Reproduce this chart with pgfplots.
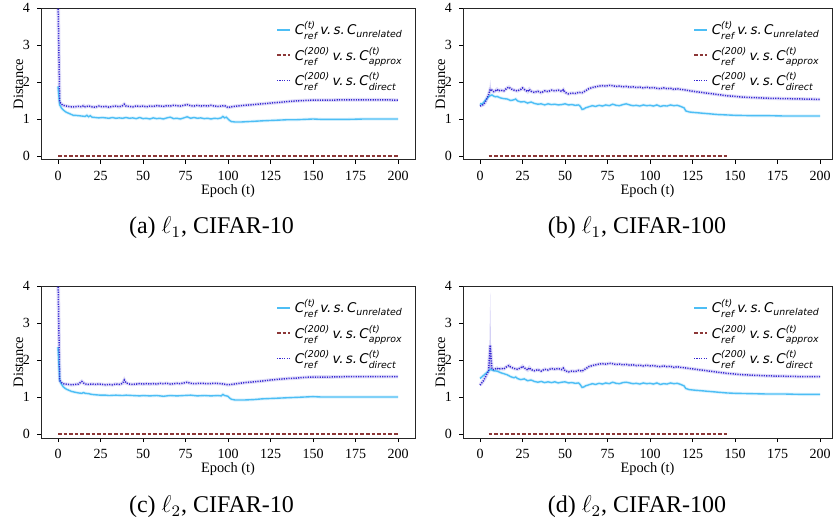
\documentclass[border=0pt]{standalone}
\usepackage{amsmath}
\usepackage{fontspec}
\setmainfont{Liberation Serif}
\newfontfamily\dejavu{DejaVu Sans}
\usepackage{pgfplots}
\pgfplotsset{compat=1.18}

\definecolor{cu}{RGB}{77,190,245}
\definecolor{ca}{RGB}{140,55,55}
\definecolor{cd}{RGB}{55,40,210}

\newcommand{\lu}{C$^{\text{(t)}}_{\text{ref}}$\,v.\,s.\,C$_{\text{unrelated}}$}
\newcommand{\la}{C$^{\text{(200)}}_{\text{ref}}$\,v.\,s.\,C$^{\text{(t)}}_{\text{approx}}$}
\newcommand{\ld}{C$^{\text{(200)}}_{\text{ref}}$\,v.\,s.\,C$^{\text{(t)}}_{\text{direct}}$}

\pgfplotsset{
  panel/.style={
    scale only axis, height=76pt,
    anchor=south west,
    xmin=-10, ymin=-0.108, ymax=4,
    xtick={0,25,...,200}, ytick={0,1,2,3,4},
    tick pos=left, tick align=outside,
    major tick length=2pt,
    tick style={black, line width=0.4pt},
    axis line style={black!85, line width=0.5pt},
    ticklabel style={font=\fontsize{7}{8}\selectfont},
    /pgf/number format/assume math mode=true,
    label style={font=\fontsize{7.2}{8}\selectfont},
    xlabel={Epoch (t)}, ylabel={Distance},
    xlabel style={yshift=5pt},
    ylabel style={yshift=-7pt},
    legend style={draw=none, fill=none, at={(0.995,0.965)}, anchor=north east,
      font=\fontsize{6.7}{8}\dejavu\itshape, row sep=0.6pt},
    legend cell align=left,
    legend image code/.code={\draw[##1] (0pt,0pt) -- (6.5pt,0pt);},
  },
  uline/.style={cu, line width=0.7pt},
  aline/.style={ca, line width=0.7pt, dash pattern=on 1.8pt off 1pt},
  dline/.style={cd, line width=0.75pt, dash pattern=on 0.6pt off 0.6pt},
  uband/.style={cu, line width=1.6pt, opacity=0.18, forget plot},
  dband/.style={cd, line width=1.8pt, opacity=0.15, forget plot},
}

\begin{document}
\begin{tikzpicture}
\useasboundingbox (0,0) rectangle (416.5pt,262.5pt);

% ---------- (a) l1, CIFAR-10
\begin{axis}[panel, at={(20.5pt,182.5pt)}, width=187pt, xmax=210]
\addplot[dband] coordinates {(0,4.3)(1,1.46)(2,1.40)(3,1.37)(4,1.36)(6,1.34)(8,1.33)(10,1.33)(12,1.34)(14,1.33)(15,1.36)(16,1.33)(18,1.35)(20,1.33)(22,1.32)(24,1.35)(26,1.33)(28,1.34)(30,1.32)(32,1.34)(34,1.35)(36,1.33)(38,1.36)(39,1.40)(40,1.35)(42,1.34)(44,1.33)(46,1.35)(48,1.34)(50,1.35)(52,1.33)(54,1.35)(56,1.34)(58,1.36)(60,1.35)(62,1.34)(64,1.36)(66,1.35)(68,1.37)(70,1.36)(72,1.35)(74,1.37)(76,1.39)(78,1.36)(80,1.35)(82,1.37)(84,1.35)(86,1.36)(88,1.35)(90,1.37)(92,1.35)(94,1.34)(96,1.35)(98,1.36)(100,1.31)(102,1.33)(105,1.35)(110,1.37)(115,1.39)(120,1.41)(125,1.43)(130,1.45)(135,1.47)(140,1.49)(145,1.50)(150,1.51)(160,1.51)(170,1.52)(180,1.52)(190,1.52)(200,1.51)};
\addplot[uband] coordinates {(0,1.88)(1,1.38)(2,1.30)(3,1.25)(4,1.21)(5,1.18)(6,1.16)(7,1.14)(8,1.12)(9,1.10)(10,1.10)(12,1.09)(14,1.08)(16,1.07)(17,1.10)(18,1.06)(19,1.09)(20,1.05)(22,1.04)(24,1.03)(26,1.04)(28,1.03)(30,1.02)(32,1.04)(34,1.02)(36,1.03)(38,1.02)(40,1.04)(42,1.02)(44,1.03)(46,1.01)(48,1.04)(50,1.01)(52,1.02)(54,1.00)(56,1.03)(58,1.01)(60,1.02)(62,1.00)(64,1.03)(66,1.05)(68,1.01)(70,1.02)(72,1.00)(74,1.03)(76,1.06)(78,1.02)(80,1.04)(82,1.02)(84,1.03)(86,1.01)(88,1.02)(90,1.00)(92,1.02)(94,1.01)(96,1.03)(97,1.07)(98,1.03)(99,1.05)(100,1.00)(101,0.96)(102,0.93)(104,0.92)(108,0.92)(112,0.93)(116,0.94)(120,0.95)(125,0.96)(130,0.97)(135,0.98)(140,0.98)(145,0.99)(150,1.00)(155,0.99)(160,0.99)(170,0.99)(180,1.00)(190,1.00)(200,1.00)};
\addplot[uline] coordinates {(0,1.88)(1,1.38)(2,1.30)(3,1.25)(4,1.21)(5,1.18)(6,1.16)(7,1.14)(8,1.12)(9,1.10)(10,1.10)(12,1.09)(14,1.08)(16,1.07)(17,1.10)(18,1.06)(19,1.09)(20,1.05)(22,1.04)(24,1.03)(26,1.04)(28,1.03)(30,1.02)(32,1.04)(34,1.02)(36,1.03)(38,1.02)(40,1.04)(42,1.02)(44,1.03)(46,1.01)(48,1.04)(50,1.01)(52,1.02)(54,1.00)(56,1.03)(58,1.01)(60,1.02)(62,1.00)(64,1.03)(66,1.05)(68,1.01)(70,1.02)(72,1.00)(74,1.03)(76,1.06)(78,1.02)(80,1.04)(82,1.02)(84,1.03)(86,1.01)(88,1.02)(90,1.00)(92,1.02)(94,1.01)(96,1.03)(97,1.07)(98,1.03)(99,1.05)(100,1.00)(101,0.96)(102,0.93)(104,0.92)(108,0.92)(112,0.93)(116,0.94)(120,0.95)(125,0.96)(130,0.97)(135,0.98)(140,0.98)(145,0.99)(150,1.00)(155,0.99)(160,0.99)(170,0.99)(180,1.00)(190,1.00)(200,1.00)};
\addlegendentry{\lu}
\addplot[aline] coordinates {(0,0)(50,0)(100,0)(150,0)(200,0)};
\addlegendentry{\la}
\addplot[dline] coordinates {(0,4.3)(1,1.46)(2,1.40)(3,1.37)(4,1.36)(6,1.34)(8,1.33)(10,1.33)(12,1.34)(14,1.33)(15,1.36)(16,1.33)(18,1.35)(20,1.33)(22,1.32)(24,1.35)(26,1.33)(28,1.34)(30,1.32)(32,1.34)(34,1.35)(36,1.33)(38,1.36)(39,1.40)(40,1.35)(42,1.34)(44,1.33)(46,1.35)(48,1.34)(50,1.35)(52,1.33)(54,1.35)(56,1.34)(58,1.36)(60,1.35)(62,1.34)(64,1.36)(66,1.35)(68,1.37)(70,1.36)(72,1.35)(74,1.37)(76,1.39)(78,1.36)(80,1.35)(82,1.37)(84,1.35)(86,1.36)(88,1.35)(90,1.37)(92,1.35)(94,1.34)(96,1.35)(98,1.36)(100,1.31)(102,1.33)(105,1.35)(110,1.37)(115,1.39)(120,1.41)(125,1.43)(130,1.45)(135,1.47)(140,1.49)(145,1.50)(150,1.51)(160,1.51)(170,1.52)(180,1.52)(190,1.52)(200,1.51)};
\addlegendentry{\ld}
\end{axis}

% ---------- (b) l1, CIFAR-100
\begin{axis}[panel, at={(231.5pt,182.5pt)}, width=184.5pt, xmax=207]
\addplot[cd, fill=cd, opacity=0.2, draw=none, forget plot] coordinates {(5.3,1.70)(6,2.05)(6.7,1.76)} -- cycle;
\addplot[dband] coordinates {(0,1.35)(1,1.37)(2,1.39)(3,1.45)(4,1.55)(5,1.65)(6,1.80)(7,1.78)(8,1.74)(9,1.76)(10,1.80)(11,1.76)(12,1.78)(14,1.76)(16,1.84)(17,1.86)(18,1.82)(20,1.78)(22,1.76)(24,1.80)(25,1.84)(26,1.80)(28,1.74)(29,1.80)(30,1.75)(32,1.72)(34,1.75)(36,1.71)(38,1.76)(40,1.74)(42,1.78)(44,1.76)(46,1.78)(48,1.75)(49,1.79)(50,1.72)(52,1.68)(54,1.70)(56,1.69)(58,1.72)(60,1.71)(62,1.76)(64,1.82)(66,1.85)(68,1.87)(70,1.89)(72,1.90)(74,1.89)(76,1.91)(78,1.90)(80,1.88)(82,1.89)(84,1.87)(86,1.88)(88,1.86)(90,1.87)(92,1.85)(94,1.86)(96,1.84)(98,1.86)(100,1.84)(102,1.85)(104,1.83)(106,1.82)(108,1.84)(110,1.82)(112,1.83)(114,1.80)(116,1.82)(118,1.80)(120,1.79)(125,1.75)(130,1.72)(135,1.69)(140,1.66)(145,1.63)(150,1.61)(155,1.59)(160,1.58)(170,1.56)(180,1.55)(190,1.54)(200,1.53)};
\addplot[uband] coordinates {(0,1.42)(1,1.40)(2,1.44)(3,1.50)(4,1.55)(5,1.60)(6,1.63)(7,1.65)(8,1.62)(9,1.60)(10,1.61)(12,1.57)(14,1.55)(16,1.54)(18,1.50)(20,1.52)(21,1.54)(22,1.49)(24,1.46)(26,1.47)(28,1.43)(30,1.46)(32,1.42)(34,1.40)(36,1.41)(38,1.38)(40,1.41)(42,1.39)(44,1.40)(46,1.38)(48,1.39)(50,1.41)(52,1.38)(54,1.39)(56,1.37)(58,1.38)(59,1.34)(60,1.26)(61,1.27)(62,1.30)(64,1.33)(66,1.36)(68,1.34)(70,1.37)(72,1.35)(74,1.38)(76,1.36)(78,1.40)(80,1.37)(82,1.36)(84,1.39)(86,1.41)(88,1.38)(90,1.36)(92,1.37)(94,1.35)(96,1.38)(98,1.36)(100,1.37)(102,1.35)(104,1.38)(106,1.34)(108,1.36)(110,1.35)(112,1.38)(114,1.36)(116,1.37)(118,1.34)(120,1.30)(121,1.22)(123,1.19)(125,1.18)(130,1.16)(135,1.14)(140,1.12)(145,1.11)(150,1.10)(160,1.09)(170,1.09)(180,1.08)(190,1.08)(200,1.08)};
\addplot[uline] coordinates {(0,1.42)(1,1.40)(2,1.44)(3,1.50)(4,1.55)(5,1.60)(6,1.63)(7,1.65)(8,1.62)(9,1.60)(10,1.61)(12,1.57)(14,1.55)(16,1.54)(18,1.50)(20,1.52)(21,1.54)(22,1.49)(24,1.46)(26,1.47)(28,1.43)(30,1.46)(32,1.42)(34,1.40)(36,1.41)(38,1.38)(40,1.41)(42,1.39)(44,1.40)(46,1.38)(48,1.39)(50,1.41)(52,1.38)(54,1.39)(56,1.37)(58,1.38)(59,1.34)(60,1.26)(61,1.27)(62,1.30)(64,1.33)(66,1.36)(68,1.34)(70,1.37)(72,1.35)(74,1.38)(76,1.36)(78,1.40)(80,1.37)(82,1.36)(84,1.39)(86,1.41)(88,1.38)(90,1.36)(92,1.37)(94,1.35)(96,1.38)(98,1.36)(100,1.37)(102,1.35)(104,1.38)(106,1.34)(108,1.36)(110,1.35)(112,1.38)(114,1.36)(116,1.37)(118,1.34)(120,1.30)(121,1.22)(123,1.19)(125,1.18)(130,1.16)(135,1.14)(140,1.12)(145,1.11)(150,1.10)(160,1.09)(170,1.09)(180,1.08)(190,1.08)(200,1.08)};
\addlegendentry{\lu}
\addplot[aline] coordinates {(5,0)(50,0)(100,0)(145,0)};
\addlegendentry{\la}
\addplot[dline] coordinates {(0,1.35)(1,1.37)(2,1.39)(3,1.45)(4,1.55)(5,1.65)(6,1.80)(7,1.78)(8,1.74)(9,1.76)(10,1.80)(11,1.76)(12,1.78)(14,1.76)(16,1.84)(17,1.86)(18,1.82)(20,1.78)(22,1.76)(24,1.80)(25,1.84)(26,1.80)(28,1.74)(29,1.80)(30,1.75)(32,1.72)(34,1.75)(36,1.71)(38,1.76)(40,1.74)(42,1.78)(44,1.76)(46,1.78)(48,1.75)(49,1.79)(50,1.72)(52,1.68)(54,1.70)(56,1.69)(58,1.72)(60,1.71)(62,1.76)(64,1.82)(66,1.85)(68,1.87)(70,1.89)(72,1.90)(74,1.89)(76,1.91)(78,1.90)(80,1.88)(82,1.89)(84,1.87)(86,1.88)(88,1.86)(90,1.87)(92,1.85)(94,1.86)(96,1.84)(98,1.86)(100,1.84)(102,1.85)(104,1.83)(106,1.82)(108,1.84)(110,1.82)(112,1.83)(114,1.80)(116,1.82)(118,1.80)(120,1.79)(125,1.75)(130,1.72)(135,1.69)(140,1.66)(145,1.63)(150,1.61)(155,1.59)(160,1.58)(170,1.56)(180,1.55)(190,1.54)(200,1.53)};
\addlegendentry{\ld}
\end{axis}

% ---------- (c) l2, CIFAR-10
\begin{axis}[panel, at={(20.5pt,43.5pt)}, width=187pt, xmax=210]
\addplot[dband] coordinates {(0,4.3)(1,1.45)(2,1.39)(3,1.36)(4,1.35)(6,1.34)(8,1.33)(10,1.34)(12,1.35)(14,1.42)(15,1.38)(16,1.35)(18,1.34)(20,1.35)(22,1.34)(24,1.35)(26,1.34)(28,1.33)(30,1.34)(32,1.33)(34,1.35)(36,1.34)(38,1.37)(39,1.46)(40,1.38)(42,1.35)(44,1.34)(46,1.35)(48,1.36)(50,1.35)(52,1.36)(54,1.35)(56,1.36)(58,1.35)(60,1.37)(62,1.36)(64,1.37)(66,1.35)(68,1.36)(70,1.37)(72,1.36)(74,1.38)(76,1.40)(78,1.37)(80,1.36)(84,1.37)(88,1.36)(92,1.37)(96,1.36)(100,1.33)(102,1.34)(105,1.36)(110,1.39)(115,1.41)(120,1.43)(125,1.46)(130,1.48)(135,1.50)(140,1.51)(145,1.53)(150,1.54)(160,1.54)(170,1.55)(180,1.55)(190,1.55)(200,1.55)};
\addplot[uband] coordinates {(0,2.35)(1,1.45)(2,1.35)(3,1.28)(4,1.24)(5,1.21)(6,1.19)(7,1.17)(8,1.15)(10,1.13)(12,1.11)(14,1.10)(15,1.12)(16,1.10)(18,1.09)(20,1.07)(22,1.06)(25,1.05)(28,1.05)(30,1.04)(34,1.05)(38,1.04)(40,1.05)(44,1.04)(48,1.03)(50,1.04)(54,1.03)(58,1.04)(62,1.02)(66,1.04)(70,1.03)(74,1.04)(78,1.05)(82,1.03)(86,1.04)(90,1.03)(94,1.04)(96,1.03)(97,1.07)(98,1.04)(100,1.02)(101,0.97)(102,0.94)(104,0.92)(110,0.92)(115,0.93)(120,0.95)(125,0.96)(130,0.97)(140,0.99)(145,1.00)(150,1.01)(155,1.00)(160,1.00)(170,1.00)(180,1.00)(190,1.00)(200,1.00)};
\addplot[uline] coordinates {(0,2.35)(1,1.45)(2,1.35)(3,1.28)(4,1.24)(5,1.21)(6,1.19)(7,1.17)(8,1.15)(10,1.13)(12,1.11)(14,1.10)(15,1.12)(16,1.10)(18,1.09)(20,1.07)(22,1.06)(25,1.05)(28,1.05)(30,1.04)(34,1.05)(38,1.04)(40,1.05)(44,1.04)(48,1.03)(50,1.04)(54,1.03)(58,1.04)(62,1.02)(66,1.04)(70,1.03)(74,1.04)(78,1.05)(82,1.03)(86,1.04)(90,1.03)(94,1.04)(96,1.03)(97,1.07)(98,1.04)(100,1.02)(101,0.97)(102,0.94)(104,0.92)(110,0.92)(115,0.93)(120,0.95)(125,0.96)(130,0.97)(140,0.99)(145,1.00)(150,1.01)(155,1.00)(160,1.00)(170,1.00)(180,1.00)(190,1.00)(200,1.00)};
\addlegendentry{\lu}
\addplot[aline] coordinates {(0,0)(50,0)(100,0)(150,0)(200,0)};
\addlegendentry{\la}
\addplot[dline] coordinates {(0,4.3)(1,1.45)(2,1.39)(3,1.36)(4,1.35)(6,1.34)(8,1.33)(10,1.34)(12,1.35)(14,1.42)(15,1.38)(16,1.35)(18,1.34)(20,1.35)(22,1.34)(24,1.35)(26,1.34)(28,1.33)(30,1.34)(32,1.33)(34,1.35)(36,1.34)(38,1.37)(39,1.46)(40,1.38)(42,1.35)(44,1.34)(46,1.35)(48,1.36)(50,1.35)(52,1.36)(54,1.35)(56,1.36)(58,1.35)(60,1.37)(62,1.36)(64,1.37)(66,1.35)(68,1.36)(70,1.37)(72,1.36)(74,1.38)(76,1.40)(78,1.37)(80,1.36)(84,1.37)(88,1.36)(92,1.37)(96,1.36)(100,1.33)(102,1.34)(105,1.36)(110,1.39)(115,1.41)(120,1.43)(125,1.46)(130,1.48)(135,1.50)(140,1.51)(145,1.53)(150,1.54)(160,1.54)(170,1.55)(180,1.55)(190,1.55)(200,1.55)};
\addlegendentry{\ld}
\end{axis}

% ---------- (d) l2, CIFAR-100
\begin{axis}[panel, at={(231.5pt,43.5pt)}, width=184.5pt, xmax=207]
\addplot[cd, fill=cd, opacity=0.22, draw=none, forget plot] coordinates {(5.3,1.70)(6,3.82)(6.7,1.76)} -- cycle;
\addplot[dband] coordinates {(0,1.32)(1,1.38)(2,1.44)(3,1.52)(4,1.62)(5,1.70)(6,2.40)(7,1.76)(8,1.74)(9,1.76)(10,1.78)(11,1.75)(12,1.77)(14,1.76)(16,1.83)(17,1.85)(18,1.81)(20,1.77)(22,1.75)(24,1.79)(25,1.83)(26,1.79)(28,1.73)(29,1.79)(30,1.74)(32,1.71)(34,1.74)(36,1.70)(38,1.75)(40,1.73)(42,1.77)(44,1.75)(46,1.77)(48,1.74)(49,1.78)(50,1.71)(52,1.68)(54,1.70)(56,1.69)(58,1.72)(60,1.70)(62,1.76)(64,1.82)(66,1.85)(68,1.87)(70,1.89)(72,1.90)(74,1.89)(76,1.91)(78,1.90)(80,1.88)(82,1.89)(84,1.87)(86,1.88)(88,1.86)(90,1.87)(92,1.85)(94,1.86)(96,1.84)(98,1.86)(100,1.84)(102,1.85)(104,1.83)(106,1.82)(108,1.84)(110,1.82)(112,1.83)(114,1.80)(116,1.82)(118,1.80)(120,1.79)(125,1.76)(130,1.73)(135,1.70)(140,1.67)(145,1.64)(150,1.62)(155,1.60)(160,1.59)(170,1.57)(180,1.56)(190,1.55)(200,1.55)};
\addplot[uband] coordinates {(0,1.50)(2,1.58)(4,1.66)(5,1.70)(6,1.75)(7,1.73)(8,1.71)(10,1.70)(12,1.66)(14,1.63)(16,1.60)(18,1.55)(20,1.52)(21,1.54)(22,1.50)(24,1.47)(26,1.49)(28,1.44)(30,1.46)(32,1.42)(34,1.40)(36,1.42)(38,1.39)(40,1.41)(42,1.39)(44,1.41)(46,1.38)(48,1.40)(50,1.41)(52,1.38)(54,1.39)(56,1.37)(58,1.38)(59,1.33)(60,1.26)(61,1.27)(62,1.30)(64,1.33)(66,1.36)(68,1.34)(70,1.37)(72,1.35)(74,1.38)(76,1.36)(78,1.40)(80,1.37)(82,1.36)(84,1.39)(86,1.40)(88,1.38)(90,1.36)(92,1.37)(94,1.35)(96,1.38)(98,1.36)(100,1.37)(102,1.35)(104,1.38)(106,1.34)(108,1.36)(110,1.35)(112,1.38)(114,1.36)(116,1.37)(118,1.34)(120,1.30)(121,1.23)(123,1.20)(125,1.19)(130,1.17)(135,1.15)(140,1.13)(145,1.11)(150,1.10)(160,1.09)(170,1.08)(180,1.08)(190,1.07)(200,1.07)};
\addplot[uline] coordinates {(0,1.50)(2,1.58)(4,1.66)(5,1.70)(6,1.75)(7,1.73)(8,1.71)(10,1.70)(12,1.66)(14,1.63)(16,1.60)(18,1.55)(20,1.52)(21,1.54)(22,1.50)(24,1.47)(26,1.49)(28,1.44)(30,1.46)(32,1.42)(34,1.40)(36,1.42)(38,1.39)(40,1.41)(42,1.39)(44,1.41)(46,1.38)(48,1.40)(50,1.41)(52,1.38)(54,1.39)(56,1.37)(58,1.38)(59,1.33)(60,1.26)(61,1.27)(62,1.30)(64,1.33)(66,1.36)(68,1.34)(70,1.37)(72,1.35)(74,1.38)(76,1.36)(78,1.40)(80,1.37)(82,1.36)(84,1.39)(86,1.40)(88,1.38)(90,1.36)(92,1.37)(94,1.35)(96,1.38)(98,1.36)(100,1.37)(102,1.35)(104,1.38)(106,1.34)(108,1.36)(110,1.35)(112,1.38)(114,1.36)(116,1.37)(118,1.34)(120,1.30)(121,1.23)(123,1.20)(125,1.19)(130,1.17)(135,1.15)(140,1.13)(145,1.11)(150,1.10)(160,1.09)(170,1.08)(180,1.08)(190,1.07)(200,1.07)};
\addlegendentry{\lu}
\addplot[aline] coordinates {(5,0)(50,0)(100,0)(145,0)};
\addlegendentry{\la}
\addplot[dline] coordinates {(0,1.32)(1,1.38)(2,1.44)(3,1.52)(4,1.62)(5,1.70)(6,2.40)(7,1.76)(8,1.74)(9,1.76)(10,1.78)(11,1.75)(12,1.77)(14,1.76)(16,1.83)(17,1.85)(18,1.81)(20,1.77)(22,1.75)(24,1.79)(25,1.83)(26,1.79)(28,1.73)(29,1.79)(30,1.74)(32,1.71)(34,1.74)(36,1.70)(38,1.75)(40,1.73)(42,1.77)(44,1.75)(46,1.77)(48,1.74)(49,1.78)(50,1.71)(52,1.68)(54,1.70)(56,1.69)(58,1.72)(60,1.70)(62,1.76)(64,1.82)(66,1.85)(68,1.87)(70,1.89)(72,1.90)(74,1.89)(76,1.91)(78,1.90)(80,1.88)(82,1.89)(84,1.87)(86,1.88)(88,1.86)(90,1.87)(92,1.85)(94,1.86)(96,1.84)(98,1.86)(100,1.84)(102,1.85)(104,1.83)(106,1.82)(108,1.84)(110,1.82)(112,1.83)(114,1.80)(116,1.82)(118,1.80)(120,1.79)(125,1.76)(130,1.73)(135,1.70)(140,1.67)(145,1.64)(150,1.62)(155,1.60)(160,1.59)(170,1.57)(180,1.56)(190,1.55)(200,1.55)};
\addlegendentry{\ld}
\end{axis}

% captions
\node[font=\fontsize{12}{14}\selectfont] at (105.75pt,148.5pt) {(a) $\ell_1$, CIFAR-10};
\node[font=\fontsize{12}{14}\selectfont] at (318.5pt,148.5pt) {(b) $\ell_1$, CIFAR-100};
\node[font=\fontsize{12}{14}\selectfont] at (105.75pt,9pt) {(c) $\ell_2$, CIFAR-10};
\node[font=\fontsize{12}{14}\selectfont] at (318.5pt,9pt) {(d) $\ell_2$, CIFAR-100};
\end{tikzpicture}
\end{document}
